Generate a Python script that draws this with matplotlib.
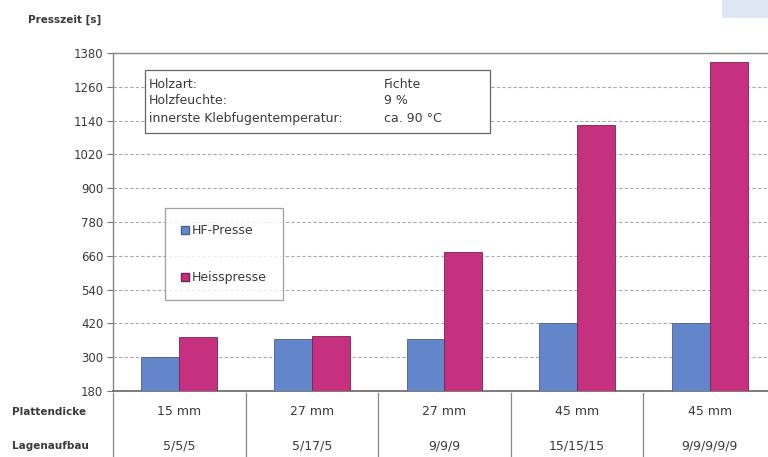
import numpy as np
import matplotlib.pyplot as plt
from matplotlib.patches import Rectangle
from matplotlib.lines import Line2D

plt.rcParams['font.family'] = ['DejaVu Sans']

# data
dicke = ['15 mm', '27 mm', '27 mm', '45 mm', '45 mm']
aufbau = ['5/5/5', '5/17/5', '9/9/9', '15/15/15', '9/9/9/9/9']
hf_presse = [300, 365, 365, 420, 420]
heisspresse = [373, 376, 673, 1126, 1348]
yticks = [180, 300, 420, 540, 660, 780, 900, 1020, 1140, 1260, 1380]

blue = '#6386cb'
magenta = '#c6317f'
txt = '#3a3a3a'

fig = plt.figure(figsize=(7.68, 4.57), dpi=100)
ax = fig.add_axes([113/768, 1-391/457, 663/768, 338/457])

x = np.arange(len(dicke))
w = 0.286
ax.bar(x - w/2, hf_presse, w, bottom=0, color=blue, edgecolor='#4a5f95', linewidth=0.6, zorder=3)
ax.bar(x + w/2, heisspresse, w, bottom=0, color=magenta, edgecolor='#7a2050', linewidth=0.6, zorder=3)

ax.set_xlim(-0.5, 4.5)
ax.set_ylim(180, 1380)
ax.set_yticks(yticks)
ax.set_yticklabels([str(v) for v in yticks], fontsize=8.5, color=txt)
ax.set_xticks([])
ax.tick_params(axis='y', length=4, color='#777777', pad=3)
ax.yaxis.grid(True, linestyle=(0, (3, 2)), color='#aaaaaa', linewidth=0.8, zorder=0)
for s in ['left', 'top']:
    ax.spines[s].set_color('#888888')
    ax.spines[s].set_linewidth(1.0)
ax.spines['right'].set_visible(False)
ax.spines['bottom'].set_color('#666666')
ax.spines['bottom'].set_linewidth(1.2)

# y label
fig.text(28/768, 1-20/457, 'Presszeit [s]', fontsize=7.5, color=txt, fontweight='bold', va='center')

# info box
ax.add_patch(Rectangle((0.048, 0.763), 0.521, 0.187, transform=ax.transAxes, fill=True,
                       facecolor='white', edgecolor='#666666', linewidth=0.9, zorder=4))
rows_l = ['Holzart:', 'Holzfeuchte:', 'innerste Klebfugentemperatur:']
rows_r = ['Fichte', '9 %', 'ca. 90 °C']
for yy, a, b in zip([0.908, 0.858, 0.806], rows_l, rows_r):
    ax.text(0.054, yy, a, transform=ax.transAxes, fontsize=9, color=txt, va='center', zorder=5)
    ax.text(0.409, yy, b, transform=ax.transAxes, fontsize=9, color=txt, va='center', zorder=5)

# legend
handles = [Line2D([], [], marker='s', linestyle='none', markersize=5.5, color=blue, markeredgecolor='#4a5f95'),
           Line2D([], [], marker='s', linestyle='none', markersize=5.5, color=magenta, markeredgecolor='#7a2050')]
leg = ax.legend(handles, ['HF-Presse', 'Heisspresse'], loc='upper left', bbox_to_anchor=(0.078, 0.541),
                frameon=True, fancybox=False, edgecolor='#888888', fontsize=9, labelspacing=2.7,
                handlelength=0.6, handletextpad=0.3, borderpad=1.3, borderaxespad=0)
leg.get_frame().set_linewidth(0.9)
for t in leg.get_texts():
    t.set_color(txt)

# table below
tr = ax.get_xaxis_transform()
for i in range(len(dicke)):
    ax.text(x[i], -0.062, dicke[i], transform=tr, ha='center', va='center', fontsize=9, color=txt)
    ax.text(x[i], -0.163, aufbau[i], transform=tr, ha='center', va='center', fontsize=9, color=txt)
for k in range(len(dicke) + 1):
    ax.plot([k - 0.5, k - 0.5], [-0.005, -0.2], transform=tr, color='#888888', linewidth=0.9, clip_on=False)
fig.text(12/768, 1-412/457, 'Plattendicke', fontsize=7.5, color=txt, fontweight='bold', va='center')
fig.text(12/768, 1-446/457, 'Lagenaufbau', fontsize=7.5, color=txt, fontweight='bold', va='center')

# light corner patch
fig.patches.append(Rectangle((722/768, 1-18/457), 46/768, 18/457, transform=fig.transFigure,
                             facecolor='#dfe7f2', edgecolor='none'))

fig.savefig('out.png', dpi=100)
